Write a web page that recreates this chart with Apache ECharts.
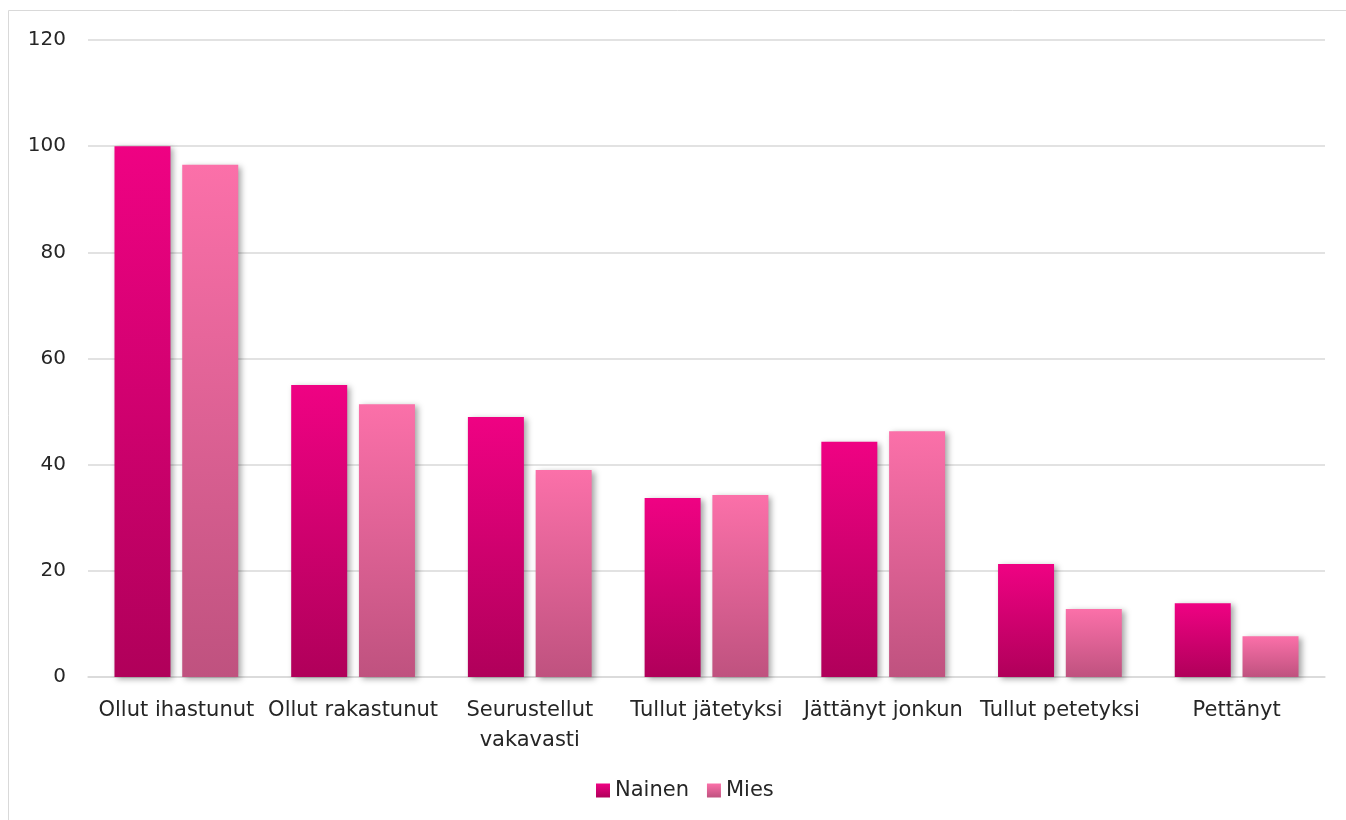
<!DOCTYPE html>
<html>
<head>
<meta charset="utf-8">
<script src="https://cdn.jsdelivr.net/npm/echarts@6/dist/echarts.min.js"></script>
<style>
  html, body { margin: 0; padding: 0; background: #fff; }
  #myChart { width: 1346px; height: 820px; }
</style>
</head>
<body>
<div id="myChart"></div>
<script>
// luokat ja arvot
let categories = ['Ollut ihastunut', 'Ollut rakastunut', 'Seurustellut\nvakavasti', 'Tullut jätetyksi', 'Jättänyt jonkun', 'Tullut petetyksi', 'Pettänyt'];
let nainen = [100, 55, 49, 33.7, 44.3, 21.3, 13.9];
let mies = [96.5, 51.4, 39, 34.3, 46.3, 12.8, 7.7];
let yTicks = [0, 20, 40, 60, 80, 100, 120];

let font = 'Tahoma, "DejaVu Sans", Verdana, sans-serif';

function grad(top, bottom) {
  return new echarts.graphic.LinearGradient(0, 0, 0, 1, [
    { offset: 0, color: top },
    { offset: 1, color: bottom }
  ]);
}

let shadow = {
  shadowColor: 'rgba(0,0,0,0.35)',
  shadowBlur: 6,
  shadowOffsetX: 3,
  shadowOffsetY: 2
};

let chart = echarts.init(document.getElementById('myChart'));
let option = {
  animation: false,
  textStyle: { fontFamily: font },
  graphic: [{
    type: 'rect',
    shape: { x: 8.5, y: 10.5, width: 1500, height: 900 },
    style: { fill: 'none', stroke: '#d9d9d9', lineWidth: 1 },
    silent: true
  }],
  grid: { left: 88, right: 21, top: 40, bottom: 143 },
  legend: {
    bottom: 14,
    left: 591,
    itemWidth: 14,
    itemHeight: 14,
    itemGap: 18,
    icon: 'rect',
    textStyle: { fontSize: 21, color: '#262626', fontFamily: font },
    data: ['Nainen', 'Mies']
  },
  xAxis: {
    type: 'category',
    data: categories,
    axisLine: { lineStyle: { color: '#d9d9d9', width: 1.5 } },
    axisTick: { show: false },
    axisLabel: {
      fontSize: 21,
      color: '#262626',
      margin: 19,
      lineHeight: 30,
      interval: 0
    }
  },
  yAxis: {
    type: 'value',
    min: 0,
    max: 120,
    interval: 20,
    axisLine: { show: false },
    axisTick: { show: false },
    splitLine: { lineStyle: { color: '#d9d9d9', width: 1.5 } },
    axisLabel: {
      fontSize: 20,
      color: '#262626',
      margin: 22,
      formatter: v => yTicks.indexOf(v) >= 0 ? String(v) : ''
    }
  },
  series: [{
    name: 'Nainen',
    type: 'bar',
    data: nainen,
    barWidth: 56,
    barGap: '21%',
    itemStyle: Object.assign({ color: grad('#ef0283', '#b0005a') }, shadow)
  }, {
    name: 'Mies',
    type: 'bar',
    data: mies,
    barWidth: 56,
    itemStyle: Object.assign({ color: grad('#fb70a9', '#bf527f') }, shadow)
  }]
};
chart.setOption(option);
</script>
</body>
</html>
